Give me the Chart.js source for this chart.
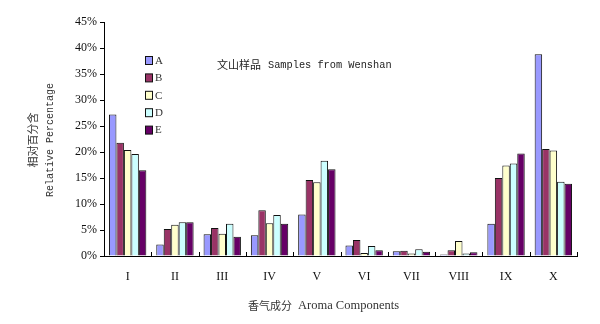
<!DOCTYPE html>
<html lang="zh">
<head>
<meta charset="UTF-8">
<title>文山样品 香气成分</title>
<script src="https://cdn.jsdelivr.net/npm/chart.js"></script>
<style>
  html, body { margin: 0; padding: 0; background: #fff; }
  #wrap { width: 600px; height: 324px; }
</style>
</head>
<body>
<div id="wrap"><canvas id="aroma"></canvas></div>
<script>
// 香气成分类别
const components = ['I', 'II', 'III', 'IV', 'V', 'VI', 'VII', 'VIII', 'IX', 'X'];
const sampleNames = ['A', 'B', 'C', 'D', 'E'];
const sampleColors = ['#9999ff', '#993366', '#ffffcc', '#ccffff', '#660066'];

// 相对百分含量 (%)
const sampleA = [27.2, 2.2, 4.2, 4.0, 8.0, 2.0, 0.9, 0.3, 6.2, 38.8];
const sampleB = [21.8, 5.2, 5.4, 8.8, 14.6, 3.1, 1.0, 1.1, 15.0, 20.6];
const sampleC = [20.4, 6.0, 4.3, 6.3, 14.2, 0.6, 0.5, 2.9, 17.4, 20.3];
const sampleD = [19.6, 6.5, 6.2, 7.9, 18.3, 1.9, 1.3, 0.5, 17.8, 14.3];
const sampleE = [16.5, 6.5, 3.7, 6.2, 16.7, 1.1, 0.8, 0.7, 19.7, 13.9];

const yTicksMax = 45;
const yStep = 5;

const serif = '"Liberation Serif", "Times New Roman", serif';
const mono = '"Liberation Mono", "DejaVu Sans Mono", monospace';
const cjk = '"Noto Sans CJK SC", sans-serif';

const seriesData = [sampleA, sampleB, sampleC, sampleD, sampleE];

// 图内文字、图例、坐标轴标题
const decorations = {
  id: 'decorations',
  afterDraw(chart) {
    const ctx = chart.ctx;
    const area = chart.chartArea;
    ctx.save();

    // x 轴分隔刻度（向上）
    ctx.strokeStyle = '#000';
    ctx.lineWidth = 1;
    ctx.beginPath();
    for (let i = 0; i <= components.length; i++) {
      const px = Math.round(area.left + (area.right - area.left) * i / components.length) + 0.5;
      ctx.moveTo(px, area.bottom);
      ctx.lineTo(px, area.bottom - 4);
    }
    ctx.stroke();

    // 图例
    ctx.textBaseline = 'middle';
    ctx.textAlign = 'left';
    ctx.font = '11px ' + serif;
    chart.data.datasets.forEach((ds, i) => {
      const cy = 61 + i * 17.4;
      ctx.fillStyle = ds.backgroundColor;
      ctx.fillRect(145.5, cy - 4.5, 7, 8);
      ctx.strokeStyle = '#111';
      ctx.strokeRect(145.5, cy - 4.5, 7, 8);
      ctx.fillStyle = '#333';
      ctx.fillText(ds.label, 155, cy);
    });

    // 图内标题
    ctx.fillStyle = '#222';
    ctx.font = '11px ' + cjk;
    ctx.fillText('文山样品', 217, 65);
    ctx.font = '10.3px ' + mono;
    ctx.fillText('Samples from Wenshan', 268, 65);

    // y 轴标题
    ctx.save();
    ctx.translate(33, 140);
    ctx.rotate(-Math.PI / 2);
    ctx.textAlign = 'center';
    ctx.font = '11px ' + cjk;
    ctx.fillStyle = '#333';
    ctx.fillText('相对百分含', 0, 0);
    ctx.translate(0, 17);
    ctx.font = '10px ' + mono;
    ctx.fillText('Relative Percentage', 0, 0);
    ctx.restore();

    // x 轴标题
    ctx.textAlign = 'left';
    ctx.fillStyle = '#333';
    ctx.font = '11px ' + cjk;
    ctx.fillText('香气成分', 248, 306);
    ctx.font = '12.5px ' + serif;
    ctx.fillText('Aroma Components', 298, 306);

    ctx.restore();
  }
};

new Chart(document.getElementById('aroma'), {
  type: 'bar',
  data: {
    labels: components,
    datasets: sampleNames.map((name, i) => ({
      label: name,
      data: seriesData[i],
      backgroundColor: sampleColors[i],
      borderColor: '#111',
      borderWidth: 1,
      categoryPercentage: 0.79,
      barPercentage: 1.0
    }))
  },
  options: {
    responsive: true,
    maintainAspectRatio: false,
    animation: false,
    layout: { padding: { top: 22, right: 23, left: 0, bottom: 0 } },
    plugins: {
      legend: { display: false },
      tooltip: { enabled: false }
    },
    scales: {
      x: {
        grid: { display: false },
        border: { color: '#000', width: 1 },
        ticks: {
          color: '#111',
          font: { family: serif, size: 12 },
          padding: 6,
          maxRotation: 0
        },
        afterFit(scale) { scale.height = 68; }
      },
      y: {
        min: 0,
        max: yTicksMax,
        grid: { drawOnChartArea: false, tickLength: 4, color: '#000' },
        border: { color: '#000', width: 1 },
        ticks: {
          stepSize: yStep,
          color: '#111',
          font: { family: serif, size: 12 },
          padding: 3,
          callback: v => v + '%'
        },
        afterFit(scale) { scale.width = 104; }
      }
    }
  },
  plugins: [decorations]
});
</script>
</body>
</html>
